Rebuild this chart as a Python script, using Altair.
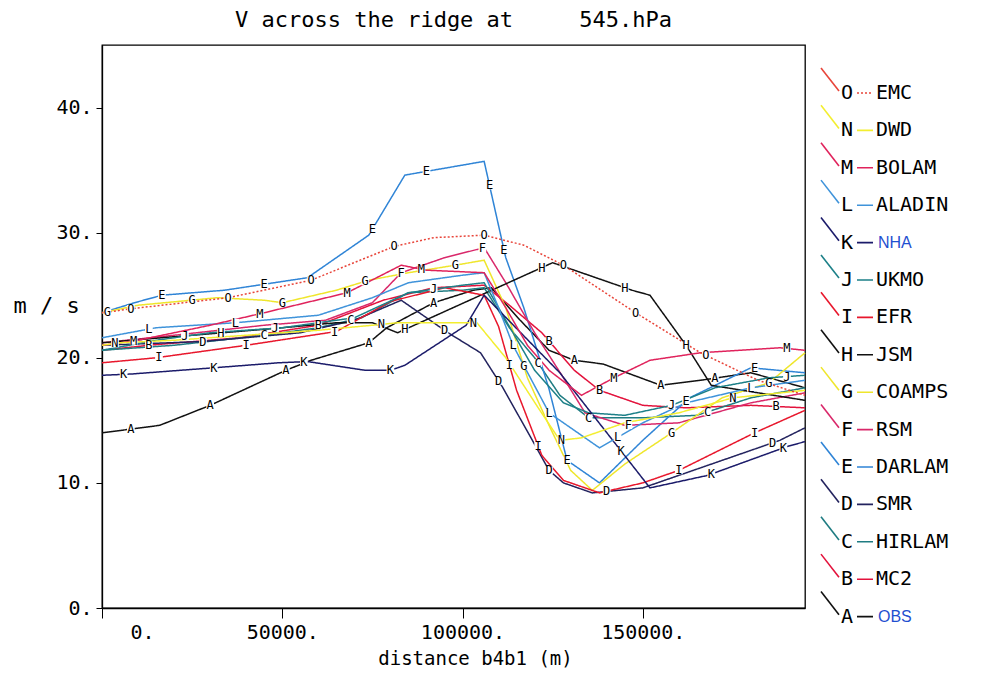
import altair as alt
import numpy as np
import pandas as pd

# ---------------- data (x in metres, y in m/s) ----------------
LETTERS = ["A", "B", "C", "D", "E", "F", "G", "H", "I", "J", "K", "L", "M", "N", "O"]
NAMES = ["OBS", "MC2", "HIRLAM", "SMR", "DARLAM", "RSM", "COAMPS", "JSM",
         "EFR", "UKMO", "NHA", "ALADIN", "BOLAM", "DWD", "EMC"]
COLORS = ["#111111", "#e3123c", "#1f7c82", "#23235e", "#2f84d6", "#d9286a",
          "#efe62c", "#111111", "#e8172c", "#1d8088", "#1b1b6a", "#3f93da",
          "#e0235c", "#f3ee30", "#e8453a"]
DASHES = [[1, 0]] * 14 + [[2, 2]]

A_X = [0, 16000, 30000, 51000, 58000, 74000, 79000, 92000, 103000, 108000, 116000, 124000, 131000, 139000, 155000, 166000, 180000, 195000]
A_Y = [14.0, 14.6, 16.2, 19.0, 19.8, 21.2, 22.4, 24.4, 25.4, 25.6, 23.0, 20.6, 19.8, 19.5, 17.8, 18.2, 18.8, 17.6]
B_X = [0, 13000, 38000, 60000, 78000, 92000, 106000, 113000, 122000, 131000, 138000, 150000, 162000, 180000, 195000]
B_Y = [20.6, 21.0, 21.6, 22.6, 24.6, 25.6, 25.8, 24.2, 22.0, 19.0, 17.4, 16.2, 16.0, 16.2, 16.0]
C_X = [0, 20000, 45000, 60000, 72000, 85000, 100000, 106000, 113000, 120000, 127000, 135000, 150000, 165000, 180000, 195000]
C_Y = [20.6, 21.0, 21.8, 22.4, 23.2, 25.2, 25.4, 25.6, 22.4, 20.0, 17.0, 15.2, 15.2, 15.4, 16.8, 17.6]
D_X = [0, 28000, 55000, 70000, 83000, 96000, 105000, 111000, 119000, 124000, 128000, 136000, 150000, 170000, 188000, 195000]
D_Y = [21.0, 21.3, 22.0, 23.0, 24.6, 22.0, 20.4, 17.7, 13.6, 11.0, 10.0, 9.2, 9.6, 11.6, 13.4, 14.4]
E_X = [0, 9000, 16600, 34000, 57000, 74000, 84000, 106000, 112000, 117000, 124000, 129000, 138000, 150000, 163000, 180000, 195000]
E_Y = [23.6, 24.4, 25.0, 25.4, 26.4, 29.8, 34.6, 35.7, 28.0, 24.0, 17.5, 11.8, 10.0, 13.4, 16.8, 19.2, 18.8]
F_X = [0, 20000, 45000, 62000, 75000, 83000, 95000, 106000, 112000, 120000, 128000, 134000, 145000, 160000, 180000, 195000]
F_Y = [21.2, 21.8, 22.6, 23.0, 24.4, 26.8, 28.0, 28.8, 26.0, 22.0, 18.4, 15.6, 14.6, 14.8, 16.4, 17.2]
G_X = [0, 10000, 32000, 45000, 50000, 65000, 74000, 85000, 98000, 106000, 112000, 118000, 124000, 130000, 136000, 145000, 158000, 172000, 185000, 195000]
G_Y = [23.6, 24.2, 24.8, 24.6, 24.4, 25.4, 26.2, 26.8, 27.4, 27.8, 24.0, 18.4, 14.6, 11.0, 9.4, 11.5, 14.0, 16.8, 18.0, 20.4]
H_X = [0, 25000, 50000, 65000, 75000, 82000, 125000, 147000, 152000, 162000, 169000, 195000]
H_Y = [21.2, 21.8, 22.4, 22.8, 22.8, 22.0, 27.6, 25.4, 25.0, 21.0, 17.8, 16.6]
I_X = [0, 15000, 40000, 65000, 80000, 95000, 106000, 110000, 115000, 122000, 128000, 138000, 150000, 160000, 181000, 195000]
I_Y = [19.6, 20.0, 21.0, 22.1, 24.5, 25.6, 25.0, 22.5, 17.4, 12.2, 10.2, 9.2, 10.0, 11.0, 14.0, 15.8]
J_X = [0, 15000, 30000, 50000, 70000, 85000, 100000, 106000, 112000, 120000, 128000, 135000, 145000, 158000, 170000, 185000, 195000]
J_Y = [20.6, 21.4, 22.0, 22.4, 23.2, 25.2, 25.8, 26.0, 23.0, 19.0, 16.4, 15.6, 15.4, 16.2, 17.6, 18.4, 18.6]
K_X = [0, 8000, 31000, 49000, 57000, 73000, 80000, 84000, 101000, 106000, 127000, 152000, 168000, 190000, 195000]
K_Y = [18.6, 18.7, 19.2, 19.6, 19.7, 19.0, 19.0, 19.4, 22.6, 25.0, 18.8, 9.6, 10.6, 12.9, 13.3]
L_X = [0, 15000, 37000, 60000, 75000, 85000, 100000, 106000, 110000, 114000, 124000, 138000, 150000, 162000, 180000, 195000]
L_Y = [21.6, 22.4, 22.8, 23.4, 24.8, 26.0, 26.6, 26.8, 24.0, 21.0, 15.6, 12.8, 14.8, 16.4, 17.6, 18.2]
M_X = [0, 10000, 30000, 45000, 68000, 83000, 90000, 106000, 112000, 118000, 124000, 133000, 142000, 152000, 166000, 188000, 195000]
M_Y = [21.0, 21.4, 22.6, 23.6, 25.2, 27.4, 27.0, 26.8, 24.0, 21.0, 19.0, 17.0, 18.4, 19.8, 20.4, 20.8, 20.6]
N_X = [0, 5000, 20000, 40000, 60000, 75000, 82000, 100000, 104000, 112000, 121000, 127000, 133000, 145000, 160000, 175000, 195000]
N_Y = [21.0, 21.2, 21.4, 21.8, 22.2, 22.6, 22.8, 22.8, 22.8, 20.0, 16.0, 13.4, 13.6, 14.8, 15.6, 16.8, 17.4]
O_X = [0, 10500, 35000, 58000, 81000, 92000, 106000, 117000, 128000, 148000, 166000, 182000, 195000]
O_Y = [23.6, 24.0, 24.8, 26.2, 28.9, 29.6, 29.8, 29.0, 27.4, 23.6, 20.4, 18.2, 17.0]

# distances along each curve where its letter is written
LAB_A = [8000, 30000, 51000, 74000, 92000, 131000, 155000, 170000]
LAB_B = [13000, 60000, 124000, 138000, 187000]
LAB_C = [45000, 69000, 121000, 135000, 168000]
LAB_D = [28000, 95000, 110000, 124000, 140000, 186000]
LAB_E = [16600, 45000, 75000, 90000, 107500, 111500, 129000, 162000, 181000]
LAB_F = [83000, 105500, 146000]
LAB_G = [1500, 25000, 50000, 73000, 98000, 117000, 158000, 185000]
LAB_H = [33000, 84000, 122000, 145000, 162000]
LAB_I = [15800, 40000, 64500, 113000, 121000, 160000, 181000]
LAB_J = [23000, 48000, 92000, 158000, 190000]
LAB_K = [6000, 31000, 56000, 80000, 144000, 169000, 189000]
LAB_L = [13000, 37000, 114000, 124000, 143000, 180000]
LAB_M = [8800, 43800, 68000, 88600, 142000, 190000]
LAB_N = [3600, 77500, 103000, 127400, 175000]
LAB_O = [8000, 35000, 58000, 81000, 106000, 128000, 148000, 167500]

SERIES = {
    "A": (A_X, A_Y, LAB_A), "B": (B_X, B_Y, LAB_B), "C": (C_X, C_Y, LAB_C),
    "D": (D_X, D_Y, LAB_D), "E": (E_X, E_Y, LAB_E), "F": (F_X, F_Y, LAB_F),
    "G": (G_X, G_Y, LAB_G), "H": (H_X, H_Y, LAB_H), "I": (I_X, I_Y, LAB_I),
    "J": (J_X, J_Y, LAB_J), "K": (K_X, K_Y, LAB_K), "L": (L_X, L_Y, LAB_L),
    "M": (M_X, M_Y, LAB_M), "N": (N_X, N_Y, LAB_N), "O": (O_X, O_Y, LAB_O),
}

X_TICKS = [0, 50000, 100000, 150000]
Y_TICKS = [0, 10, 20, 30, 40]
TITLE = "V across the ridge at\u00a0\u00a0\u00a0\u00a0\u00a0545.hPa"

rows, lab_rows = [], []
for letter in LETTERS:
    xs, ys, labs = SERIES[letter]
    for xv, yv in zip(xs, ys):
        rows.append({"letter": letter, "x": xv, "y": yv})
    for lx in labs:
        lab_rows.append({"letter": letter, "x": lx,
                         "y": float(np.interp(lx, xs, ys))})
df = pd.DataFrame(rows)
labdf = pd.DataFrame(lab_rows)

MONO = "DejaVu Sans Mono"

color_scale = alt.Scale(domain=LETTERS, range=COLORS)
dash_scale = alt.Scale(domain=LETTERS, range=DASHES)

xenc = alt.X("x:Q", scale=alt.Scale(domain=[0, 195000], nice=False, zero=False),
             axis=alt.Axis(values=X_TICKS, format="d", labelExpr="datum.label + '.'",
                           title="distance b4b1 (m)", grid=False, tickSize=10,
                           labelFontSize=20, labelPadding=4,
                           labelFlush=True, labelFlushOffset=-28,
                           titleFontSize=19, titleX=373, titleY=50,
                           titleBaseline="middle"))
yenc = alt.Y("y:Q", scale=alt.Scale(domain=[0, 45], nice=False, zero=False),
             axis=alt.Axis(values=Y_TICKS, format="d", labelExpr="datum.label + '.'",
                           title="m / s", grid=False, tickSize=6, labelPadding=4,
                           labelFontSize=20, titleFontSize=22, titleAngle=0,
                           titleAlign="left", titleBaseline="middle",
                           titleX=-89, titleY=260))

lines = alt.Chart(df).mark_line(strokeWidth=1.5).encode(
    x=xenc, y=yenc,
    color=alt.Color("letter:N", scale=color_scale, legend=None),
    strokeDash=alt.StrokeDash("letter:N", scale=dash_scale, legend=None),
    order="x:Q",
)
lbase = alt.Chart(labdf)
boxes = lbase.mark_square(size=60, color="white", opacity=1, filled=True).encode(
    x="x:Q", y="y:Q")
letters = lbase.mark_text(font=MONO, fontSize=12, color="black",
                          baseline="middle", align="center").encode(
    x="x:Q", y="y:Q", text="letter:N")

plot = alt.layer(lines, boxes, letters).properties(
    width=703, height=563,
    title=alt.TitleParams(TITLE, font=MONO, fontSize=22, fontWeight="normal",
                          color="black", anchor="middle", offset=13),
)

# ---------------- legend panel ----------------
leg_rows = []
for k, letter in enumerate(reversed(LETTERS)):
    idx = LETTERS.index(letter)
    leg_rows.append({"letter": letter, "name": NAMES[idx], "row": k,
                     "ytop": k - 0.67, "ybot": k - 0.05,
                     "special": letter in ("A", "K")})
ldf = pd.DataFrame(leg_rows)
lscale = alt.Scale(domain=[-1.283, 14.76], nice=False, zero=False, reverse=True)
gbase = alt.Chart(ldf)
diag = gbase.mark_rule(strokeWidth=1.6).encode(
    x=alt.value(1), x2=alt.value(19),
    y=alt.Y("ytop:Q", scale=lscale, axis=None), y2="ybot:Q",
    color=alt.Color("letter:N", scale=color_scale, legend=None),
)
dash = gbase.mark_rule(strokeWidth=1.6).encode(
    x=alt.value(37), x2=alt.value(53),
    y=alt.Y("row:Q", scale=lscale, axis=None),
    color=alt.Color("letter:N", scale=color_scale, legend=None),
    strokeDash=alt.StrokeDash("letter:N", scale=dash_scale, legend=None),
)
ltext = gbase.mark_text(font=MONO, fontSize=20, align="left", baseline="middle",
                        color="black").encode(
    x=alt.value(21), y=alt.Y("row:Q", scale=lscale, axis=None), text="letter:N")
ntext = gbase.transform_filter("!datum.special").mark_text(
    font=MONO, fontSize=20, align="left", baseline="middle", color="black"
).encode(x=alt.value(56), y=alt.Y("row:Q", scale=lscale, axis=None), text="name:N")
stext = gbase.transform_filter("datum.special").mark_text(
    font="Liberation Sans", fontSize=16, align="left", baseline="middle", color="#1f4fd0"
).encode(x=alt.value(58), y=alt.Y("row:Q", scale=lscale, axis=None), text="name:N")

legend = alt.layer(diag, dash, ltext, ntext, stext).properties(
    width=150, height=600, view=alt.ViewBackground(stroke="transparent"))

chart = alt.hconcat(plot, legend, spacing=10).properties(
    padding={"left": 4, "top": 0, "right": 0, "bottom": 0}
).configure_view(stroke="black", strokeWidth=1.3).configure_axis(
    labelFont=MONO, titleFont=MONO, labelColor="black", titleColor="black",
    domainColor="black", tickColor="black", titleFontWeight="normal",
    domainWidth=1.3,
).configure_title(font=MONO)

chart.save("out.html", embed_options={"renderer": "svg", "actions": False})
